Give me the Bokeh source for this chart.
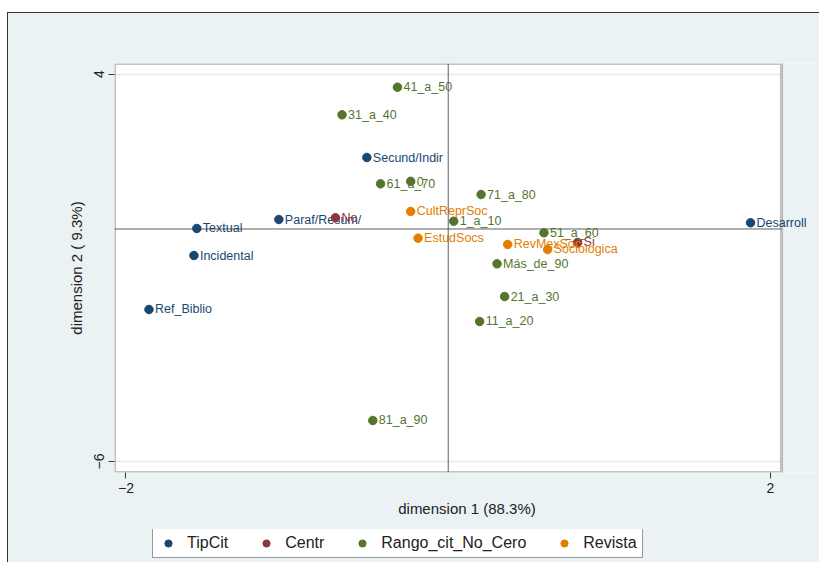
from bokeh.plotting import figure
from bokeh.layouts import column
from bokeh.models import (ColumnDataSource, FixedTicker, Span, Legend, LegendItem, Range1d,
                          BoxAnnotation)
from bokeh.core.properties import value
from bokeh.embed import file_html
from bokeh.resources import INLINE

# ---- data ----
tip_labels = ["Secund/Indir", "Paraf/Resum/", "Textual", "Incidental", "Ref_Biblio", "Desarroll"]
tip_x = [-0.505, -1.051, -1.560, -1.578, -1.857, 1.876]
tip_y = [1.845, 0.245, 0.013, -0.684, -2.077, 0.160]

centr_labels = ["No", "Si"]
centr_x = [-0.700, 0.803]
centr_y = [0.289, -0.348]

rango_labels = ["41_a_50", "31_a_40", "61_a_70", "0", "71_a_80", "1_a_10", "51_a_60",
                "Más_de_90", "21_a_30", "11_a_20", "81_a_90"]
rango_x = [-0.315, -0.659, -0.420, -0.233, 0.204, 0.034, 0.594, 0.303, 0.350, 0.195, -0.468]
rango_y = [3.659, 2.947, 1.166, 1.230, 0.890, 0.201, -0.098, -0.899, -1.742, -2.387, -4.942]

rev_labels = ["CultReprSoc", "EstudSocs", "RevMexSoc", "Sociologica"]
rev_x = [-0.233, -0.187, 0.369, 0.617]
rev_y = [0.452, -0.237, -0.400, -0.529]

group_names = ["TipCit", "Centr", "Rango_cit_No_Cero", "Revista"]
group_colors = ["#1a476f", "#90353b", "#55752f", "#e37e00"]

x_ticks = [-2, 2]
y_ticks = [-6, 4]

# plot-region limits (Stata plot region); the canvas extends a bit past the right edge
X_MIN, X_MAX, X_CANVAS = -2.071, 2.068, 2.304
Y_MIN, Y_MAX = -6.284, 4.271

FONT = "Liberation Sans"
BG = "#eaf2f3"
FRAME = "#3a3a3a"
LEFT_BORDER = 106

p = figure(frame_width=705, frame_height=409,
           x_range=Range1d(X_MIN, X_CANVAS), y_range=Range1d(Y_MIN, Y_MAX),
           output_backend="svg", toolbar_location=None,
           min_border_left=LEFT_BORDER, min_border_right=0, min_border_top=50,
           min_border_bottom=57,
           background_fill_color="white", border_fill_color=BG,
           outline_line_color=None)

# axes
for ax in (p.xaxis[0], p.yaxis[0]):
    ax.axis_line_color = None
    ax.minor_tick_line_color = None
    ax.major_tick_in = 0
    ax.major_tick_out = 6
    ax.major_tick_line_color = FRAME
    ax.major_label_text_font = FONT
    ax.major_label_text_font_size = "14px"
    ax.major_label_text_color = "#222222"
    ax.axis_label_text_font = FONT
    ax.axis_label_text_font_size = "15px"
    ax.axis_label_text_font_style = "normal"
    ax.axis_label_text_color = "#222222"
    ax.major_label_standoff = 4

p.xaxis.ticker = FixedTicker(ticks=x_ticks)
p.yaxis.ticker = FixedTicker(ticks=y_ticks)
p.yaxis.major_label_orientation = "vertical"
p.xaxis.axis_label = "dimension 1 (88.3%)"
p.yaxis.axis_label = "dimension 2 ( 9.3%)"
p.xaxis.axis_label_standoff = 4
p.yaxis.axis_label_standoff = 7

p.xgrid.visible = False
p.ygrid.grid_line_color = "#e4ebed"
p.ygrid.grid_line_width = 1.5

# reference lines at 0
p.add_layout(Span(location=0, dimension="height", line_color="#5f5f5f", line_width=1))
p.add_layout(Span(location=0, dimension="width", line_color="#5f5f5f", line_width=1,
                  level="underlay"))
# area right of the plot region takes the graph-region colour
p.add_layout(BoxAnnotation(left=X_MAX, fill_color=BG, fill_alpha=1, line_color=None,
                           level="underlay"))
# plot-region frame
p.add_layout(BoxAnnotation(right=X_MAX, fill_alpha=0, line_color=FRAME, line_width=3.2,
                           level="overlay"))

groups = [
    (tip_labels, tip_x, tip_y),
    (centr_labels, centr_x, centr_y),
    (rango_labels, rango_x, rango_y),
    (rev_labels, rev_x, rev_y),
]

for (labels, xs, ys), color in zip(groups, group_colors):
    src = ColumnDataSource(dict(x=xs, y=ys, label=labels))
    p.scatter("x", "y", source=src, size=8.5, marker="circle",
              fill_color=color, line_color=color)
    p.text("x", "y", text="label", source=src, x_offset=6,
           text_baseline="middle", text_align="left",
           text_font=value(FONT), text_font_size="12.5px", text_color=color)

# ---- legend strip under the graph (same borders as the main figure) ----
lg = figure(frame_width=705, frame_height=33, min_border_left=LEFT_BORDER,
            min_border_right=0, min_border_top=0, min_border_bottom=0,
            x_range=Range1d(10, 11), y_range=Range1d(10, 11),
            x_axis_type=None, y_axis_type=None,
            output_backend="svg", toolbar_location=None,
            background_fill_color=BG, border_fill_color=BG, outline_line_color=None)
lg.xgrid.visible = False
lg.ygrid.visible = False

items = []
for (labels, xs, ys), name, color in zip(groups, group_names, group_colors):
    # same data as the main chart; it lies outside this strip's ranges, only the key shows
    r = lg.scatter(x=xs, y=ys, size=8, marker="circle", fill_color=color, line_color=color)
    items.append(LegendItem(label=name, renderers=[r]))

legend = Legend(items=items, orientation="horizontal", location=(38, 4),
                label_text_font=FONT, label_text_font_size="16px", label_text_color="#222222",
                glyph_width=20, glyph_height=18, label_standoff=9, spacing=28,
                padding=5, margin=0, label_height=18,
                border_line_color="#333333", border_line_width=1,
                background_fill_color="white", background_fill_alpha=1)
lg.add_layout(legend)

page = column(p, lg, spacing=0,
              styles={"margin-left": "7px", "margin-top": "12px",
                      "border-left": "1.5px solid #333333",
                      "border-top": "1.5px solid #333333",
                      "background-color": BG})

open("out.html", "w").write(file_html(page, INLINE))
